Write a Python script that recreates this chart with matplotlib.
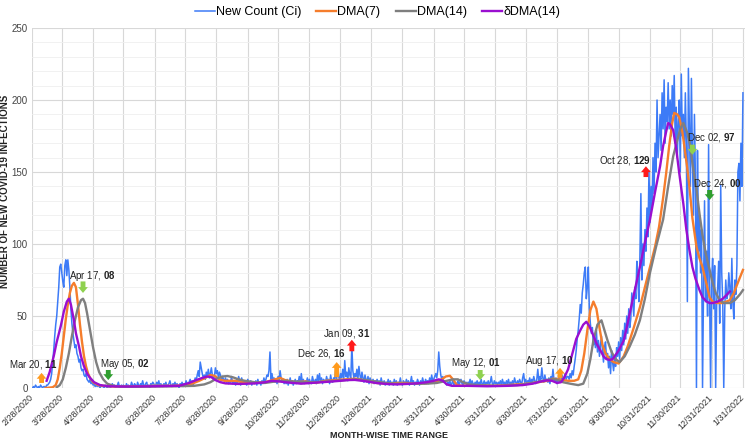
import matplotlib
matplotlib.use("Agg")
import matplotlib.pyplot as plt
import matplotlib.ticker as mticker
import pandas as pd

plt.rcParams['font.family'] = ['Liberation Sans', 'DejaVu Sans']
plt.rcParams['mathtext.fontset'] = 'custom'
plt.rcParams['mathtext.rm'] = 'Liberation Sans'
plt.rcParams['mathtext.bf'] = 'Liberation Sans:bold'

start = pd.Timestamp('2020-02-28')

# daily new counts (Ci), one value per day from 2/28/2020
count_wave1 = [
    0, 1, 0, 2, 1, 0, 1, 0, 2, 1,
    0, 1, 1, 0, 2, 2, 3, 4, 6, 10,
    18, 26, 36, 44, 50, 60, 70, 84, 86, 80,
    74, 70, 85, 89, 78, 89, 82, 70, 55, 45,
    38, 33, 28, 30, 24, 22, 18, 20, 14, 12,
    13, 9, 8, 10, 6, 5, 4, 6, 3, 4,
    2, 3, 1, 2, 1, 2, 1, 0, 2, 1,
]
count_lull = [
    1, 0, 2, 1, 0, 1, 2, 0, 1, 3,
    1, 2, 0, 1, 2, 4, 1, 0, 2, 1,
    2, 1, 0, 3, 1, 2, 0, 1, 4, 2,
    1, 3, 2, 0, 4, 2, 1, 3, 2, 5,
    2, 1, 3, 4, 1, 2, 0, 3, 2, 4,
    3, 1, 2, 4, 2, 5, 1, 3, 2, 1,
    3, 2, 4, 1, 2, 3, 5, 2, 1, 3,
    2, 4, 1, 3, 2, 0, 3, 2, 4, 1,
    3, 2, 5, 3, 2, 4, 6, 3, 5, 2,
    4, 7, 5, 9, 12, 8, 18, 14, 10, 7,
    9, 6, 11, 8, 13, 7, 10, 14, 9, 6,
    8, 14, 10, 12, 7, 11, 9, 5, 8, 6,
    5, 7, 4, 6, 3, 5, 4, 8, 3, 5,
    4, 2, 6, 3, 8, 5, 2, 7, 4, 3,
    5, 3, 2, 6, 4, 3, 5, 2, 4, 3,
    3, 5, 2, 6, 3, 4, 2, 5, 3, 7,
    4, 6, 9, 8, 12, 25, 6, 10, 5, 7,
    4, 6, 3, 8, 5, 12, 7, 4, 6, 3,
    5, 3, 6, 2, 4, 7, 3, 5, 2, 4,
    6, 3, 5, 4, 8, 3, 10, 4, 6, 3,
    5, 4, 7, 3, 6, 4, 3, 8, 5, 4,
    6, 3, 9, 5, 10, 4, 7, 3, 6, 5,
    4, 8, 5, 6, 3, 9, 5, 4, 7, 6,
    12, 6, 16, 8, 5, 10, 7, 13, 6, 19,
    8, 11, 5, 14, 9, 6, 30, 12, 7, 10,
    8, 13, 6, 15, 9, 5, 11, 7, 4, 9,
    6, 4, 8, 3, 7, 5, 4, 6, 3, 5,
    4, 6, 3, 5, 2, 7, 4, 3, 5, 2,
    4, 3, 6, 2, 5, 3, 4, 2, 6, 3,
    5, 2, 4, 3, 7, 3, 2, 5, 4, 3,
    6, 3, 5, 2, 4, 8, 3, 5, 2, 4,
    3, 6, 4, 2, 5, 3, 7, 4, 3, 6,
    4, 5, 3, 7, 4, 9, 5, 6, 8, 10,
    7, 12, 25, 15, 9, 6, 8, 4, 5, 3,
    2, 4, 3, 5, 2, 3, 6, 2, 4, 3,
    3, 5, 2, 4, 6, 3, 2, 5, 3, 4,
    2, 4, 3, 6, 2, 5, 3, 2, 4, 3,
    5, 2, 4, 3, 6, 2, 3, 5, 2, 4,
    3, 5, 2, 4, 8, 3, 2, 5, 3, 4,
    2, 4, 3, 5, 2, 6, 3, 4, 2, 5,
    3, 6, 2, 4, 3, 5, 2, 7, 4, 3,
    5, 3, 6, 4, 2, 7, 10, 4, 6, 3,
    5, 4, 7, 3, 6, 4, 8, 5, 3, 6,
    13, 5, 8, 6, 14, 7, 4, 9, 5, 6,
    4, 7, 3, 8, 5, 13, 6, 4, 7, 3,
    5, 8, 4, 6, 9, 5, 7, 10, 6, 8,
]
count_wave2 = [
    8, 6, 10, 7, 12, 9, 15, 20, 26, 34,
    40, 48, 58, 52, 66, 72, 80, 84, 62, 70,
    84, 55, 45, 38, 42, 30, 35, 28, 40, 25,
    33, 22, 30, 36, 26, 18, 28, 32, 20, 24,
    14, 22, 10, 26, 18, 12, 20, 15, 28, 22,
    32, 20, 35, 26, 40, 30, 45, 34, 50, 38,
    55, 42, 48, 66, 58, 50, 70, 62, 88, 75,
    60, 90, 135, 75, 100, 85, 110, 95, 125, 105,
    151, 115, 140, 125, 160, 135, 170, 150, 200, 160,
    175, 190, 165, 205, 180, 214, 170, 195, 185, 212,
    180, 200, 175, 210, 190, 217, 170, 195, 160, 185,
    200, 150, 218, 175, 190, 160, 205, 170, 60, 222,
    180, 140, 215, 160, 120, 190, 145, 0, 165, 95,
    120, 80, 110, 0, 70, 130, 60, 95, 50, 169,
    65, 0, 75, 90, 55, 85, 0, 60, 70, 88,
    45, 141, 80, 60, 0, 55, 75, 62, 65, 80,
    70, 55, 90, 60, 48, 75, 65, 85, 150, 156,
    130, 170, 140, 205,
]
count = count_wave1 + count_lull + count_wave2

# smoothed curves: (day offset from 2/28/2020, value)
dma7_day = [13, 20, 23, 25, 27, 29, 31, 33, 35, 37, 39, 41, 43, 45, 47, 49, 51, 53, 55, 57, 60, 65, 70, 80,
            100, 120, 140, 150, 158, 165, 171, 176, 180, 185, 190, 200, 210, 220, 230, 240, 245, 250,
            260, 270, 280, 290, 300, 310, 320, 330, 340, 350, 360, 370, 380, 390, 400, 405, 409, 413,
            416, 420, 425, 440, 456, 470, 480, 490, 500, 510, 515, 520, 530, 536, 540, 543, 546, 549,
            552, 555, 558, 561, 564, 567, 571, 575, 580, 585, 589, 595, 601, 606, 611, 616, 620, 624,
            627, 630, 633, 635, 638, 640, 643, 645, 648, 650, 653, 657, 660, 663, 667, 670, 673, 677,
            683, 690, 694, 699, 703]
dma7_val = [0, 0.5, 2, 6, 14, 24, 36, 48, 58, 66, 71, 73, 70, 58, 44, 32, 22, 15, 10, 7, 4, 2, 1.5, 1,
            1, 1.5, 1.5, 2, 3, 5, 7, 9, 8.5, 6, 5, 5, 4, 3.5, 4, 6, 7, 5.5,
            4, 4.5, 3.5, 5, 5.5, 6, 6.5, 5, 3.5, 3, 3.5, 3.5, 3, 3.5, 4.5, 6, 8, 8.5,
            6, 2, 1.5, 2, 1.5, 2, 2.5, 3, 4, 5, 6.5, 6, 5, 5, 6, 12, 24, 40,
            54, 60, 55, 42, 30, 24, 20, 18, 17, 22, 29, 42, 56, 70, 84, 98, 112, 132,
            149, 168, 184, 191, 190, 188, 178, 168, 152, 140, 118, 98, 90, 84, 72, 63, 60, 59,
            59, 61, 66, 75, 82]

dma14_day = [24, 27, 30, 33, 36, 39, 42, 45, 48, 50, 52, 54, 57, 60, 63, 66, 70, 74, 78, 85, 100, 120,
             140, 160, 170, 176, 182, 188, 193, 198, 204, 210, 220, 230, 240, 250, 260, 270, 280, 290,
             300, 310, 320, 330, 340, 350, 360, 370, 380, 390, 400, 410, 416, 421, 426, 432, 440, 460,
             480, 495, 505, 512, 518, 525, 532, 540, 545, 549, 552, 555, 559, 563, 566, 569, 573, 577,
             581, 586, 591, 596, 601, 606, 611, 617, 624, 629, 634, 638, 641, 644, 648, 651, 653, 657,
             660, 663, 666, 670, 673, 676, 680, 684, 690, 695, 700, 703]
dma14_val = [0.5, 2, 6, 14, 24, 36, 47, 56, 61, 62, 59, 52, 40, 28, 18, 11, 6, 3, 2, 1, 0.8, 1,
             1.2, 1.5, 2.5, 4, 6.5, 8, 8.3, 7.5, 6, 5, 4, 3.5, 4.5, 5, 4.5, 4, 4, 4.5,
             5, 5.5, 6, 5.5, 4.5, 3.5, 3, 3, 3, 3, 3.5, 5, 6, 6, 4, 2.5, 2, 1.5,
             2, 3.5, 5, 6, 6, 4, 3, 2, 3, 10, 20, 33, 44, 47, 40, 33, 25, 20,
             18, 22, 29, 37, 47, 62, 80, 98, 117, 140, 161, 172, 180, 184, 177, 168, 156, 138,
             121, 106, 94, 82, 73, 66, 61, 59, 59, 61, 65, 68]

ddma14_day = [14, 17, 21, 24, 28, 31, 34, 36, 38, 41, 43, 46, 48, 51, 54, 57, 61, 67, 75, 90, 120, 145,
              155, 162, 168, 173, 177, 181, 186, 191, 204, 212, 220, 230, 237, 245, 250, 258, 266, 276,
              286, 296, 305, 312, 319, 326, 332, 340, 350, 360, 370, 380, 390, 397, 402, 406, 410, 415,
              430, 450, 470, 485, 495, 503, 509, 514, 519, 523, 526, 530, 535, 538, 542, 545, 548, 551,
              554, 558, 562, 565, 568, 571, 574, 576, 580, 585, 588, 591, 596, 601, 606, 611, 616, 621,
              624, 627, 629, 631, 634, 637, 640, 644, 647, 650, 653, 656, 660, 663, 667, 670, 673, 678,
              683, 686, 690]
ddma14_val = [5, 11, 22, 32, 43, 53, 60, 62, 58, 47, 38, 29, 22, 15, 10, 7, 4, 2, 1.2, 1, 1.2, 1.5,
              3.5, 5.5, 7, 8, 7.5, 5.5, 4, 3.2, 2.8, 3, 3.2, 4, 5, 4.5, 4, 3.5, 3, 3.5,
              4, 4.5, 5, 5.5, 5.6, 5, 4.4, 3.5, 2.8, 2.5, 2.8, 3.2, 4, 5, 6, 5, 2.5, 1.5,
              1.5, 1.2, 1.5, 2, 3, 4.5, 5.3, 5, 3.5, 4, 7, 13, 26, 34, 40, 44, 46, 43,
              38, 31, 26, 22, 20, 19.5, 20, 22, 26, 33, 42, 52, 68, 84, 101, 117, 136, 154,
              168, 178, 184, 183, 179, 166, 149, 128, 110, 96, 84, 76, 68, 63, 60, 59, 59, 60,
              62, 64, 67]

# annotations: label, bold number, text position, arrow x, arrow tail/head values, colour
ann_label = ['Mar 20', 'Apr 17', 'May 05', 'Dec 26', 'Jan 09', 'May 12', 'Aug 17', 'Oct 28', 'Dec 02', 'Dec 24']
ann_num = ['11', '08', '02', '16', '31', '01', '10', '129', '97', '00']
ann_text_day = [1, 59, 92, 286, 311, 439, 511, 586, 672, 678]
ann_text_val = [16, 78, 17, 24, 38, 17.5, 19, 158, 174, 142]
ann_arrow_day = [9, 50, 75, 301, 316, 443, 522, 607, 653, 670]
ann_tail_val = [3.5, 74, 12.5, 7.5, 25.5, 12.5, 7, 146.5, 169, 137.5]
ann_head_val = [10.5, 66, 5.5, 18, 33.5, 5.5, 14, 154, 162, 130.5]
ann_color = ['#ff9a1c', '#8fd14f', '#2f9e2f', '#ff9a1c', '#ff1a1a', '#8fd14f', '#ff9a1c', '#ff1a1a', '#8fd14f', '#2f9e2f']

tick_labels = ['2/28/2020', '3/28/2020', '4/28/2020', '5/28/2020', '6/28/2020', '7/28/2020', '8/28/2020',
               '9/28/2020', '10/28/2020', '11/28/2020', '12/28/2020', '1/28/2021', '2/28/2021', '3/31/2021',
               '4/30/2021', '5/31/2021', '6/30/2021', '7/31/2021', '8/31/2021', '9/30/2021', '10/31/2021',
               '11/30/2021', '12/31/2021', '1/31/2022']


def to_dates(days):
    return start + pd.to_timedelta(days, unit='D')


dates = pd.date_range(start, periods=len(count), freq='D')

fig = plt.figure(figsize=(7.5, 4.41), dpi=100)
ax = fig.add_axes([0.0433, 0.1202, 0.950, 0.8163])

l1, = ax.plot(dates, count, color='#3d7bf7', lw=1.1, label='New Count (Ci)')
l2, = ax.plot(to_dates(dma7_day), dma7_val, color='#f57d2c', lw=1.7, label='DMA(7)')
l3, = ax.plot(to_dates(dma14_day), dma14_val, color='#7f7f7f', lw=1.7, label='DMA(14)')
l4, = ax.plot(to_dates(ddma14_day), ddma14_val, color='#9a0fd0', lw=1.7, label='δDMA(14)')

for i in range(len(ann_label)):
    ax.annotate('', xy=(to_dates(ann_arrow_day[i]), ann_head_val[i]),
                xytext=(to_dates(ann_arrow_day[i]), ann_tail_val[i]),
                arrowprops=dict(arrowstyle='simple,head_length=0.6,head_width=1.0,tail_width=0.5',
                                color=ann_color[i], mutation_scale=7, shrinkA=0, shrinkB=0, lw=0))
    ax.text(to_dates(ann_text_day[i]), ann_text_val[i],
            ann_label[i] + ', $\\mathbf{' + ann_num[i] + '}$',
            fontsize=7, color='#222222', ha='center', va='center', clip_on=False)

tick_dates = pd.to_datetime(tick_labels, format='%m/%d/%Y')
ax.set_xticks(tick_dates)
ax.set_xticklabels(tick_labels, rotation=45, ha='right', va='center', rotation_mode='anchor',
                   fontsize=6.5, color='#333333')
ax.set_xlim(start, pd.Timestamp('2022-02-02'))
ax.set_ylim(0, 250)
ax.yaxis.set_major_locator(mticker.MultipleLocator(50))
ax.yaxis.set_minor_locator(mticker.MultipleLocator(10))
ax.tick_params(axis='y', labelsize=7, colors='#444444', length=0, which='both')
ax.tick_params(axis='x', length=0, pad=6)
ax.grid(True, which='major', color='#d8d8d8', lw=0.8)
ax.grid(True, which='minor', axis='y', color='#efefef', lw=0.6)
ax.set_axisbelow(True)
for s in ax.spines.values():
    s.set_visible(False)

ax.set_ylabel('NUMBER OF NEW COVID-19 INFECTIONS', fontsize=7, fontweight='bold', color='#222222')
ax.yaxis.set_label_coords(-0.0315, 0.547)
ax.set_xlabel('MONTH-WISE TIME RANGE', fontsize=6.5, fontweight='bold', color='#222222', labelpad=0)

fig.legend(handles=[l1, l2, l3, l4], loc='upper center', bbox_to_anchor=(0.503, 1.012), ncol=4, frameon=False,
           fontsize=9, handlelength=1.6, handletextpad=0.1, columnspacing=1.2)

fig.savefig('out.png', dpi=100)
